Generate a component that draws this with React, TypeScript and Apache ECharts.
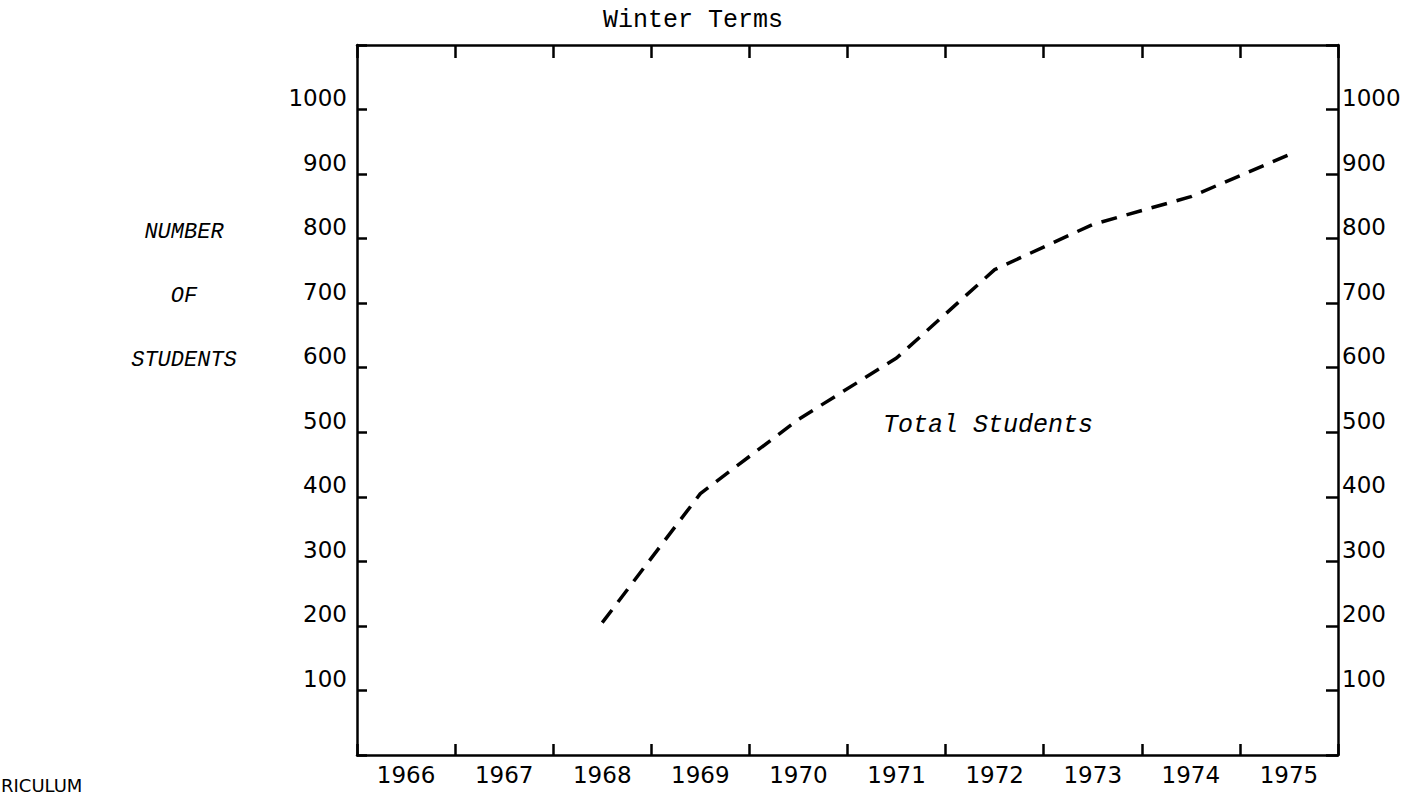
import React, { useEffect, useRef } from 'react';
import * as echarts from 'echarts';

const years = ['1966', '1967', '1968', '1969', '1970', '1971', '1972', '1973', '1974', '1975'];
const totalStudents = [null, null, 205, 405, 520, 615, 752, 822, 865, 930];
const yMin = 0;
const yMax = 1100;
const yStep = 100;
const titleText = 'Winter Terms';
const yNameLines = ['NUMBER', 'OF', 'STUDENTS'];
const seriesLabel = 'Total Students';
const footerText = 'RICULUM';

export default function App() {
  const ref = useRef<HTMLDivElement>(null);
  useEffect(() => {
    const chart = echarts.init(ref.current!, null, { renderer: 'svg' });
    const tickFont = { fontFamily: 'DejaVu Sans', fontSize: 23, color: '#000' };
    const lineStyle = { color: '#000', width: 2.5 };
    const yLabelFmt = (v: number) => (v <= yMin || v >= yMax ? '' : String(v));
    const yAxisBase = {
      type: 'value',
      min: yMin,
      max: yMax,
      interval: yStep,
      splitLine: { show: false },
      axisLine: { show: true, onZero: false, lineStyle },
    };
    const xAxisBase = {
      type: 'category',
      data: years,
      boundaryGap: true,
      splitLine: { show: false },
      axisLine: { show: true, onZero: false, lineStyle },
    };
    const mono = 'Liberation Mono';
    chart.setOption({
      animation: false,
      backgroundColor: '#fff',
      grid: { left: 357, right: 90, top: 45, bottom: 41 },
      xAxis: [
        {
          ...xAxisBase,
          position: 'bottom',
          axisTick: { show: true, inside: true, length: 11, lineStyle },
          axisLabel: { ...tickFont, margin: 8 },
        },
        {
          ...xAxisBase,
          position: 'top',
          axisTick: { show: true, inside: true, length: 13, lineStyle },
          axisLabel: { show: false },
        },
      ],
      yAxis: [
        {
          ...yAxisBase,
          position: 'left',
          axisTick: { show: true, inside: true, length: 10, lineStyle },
          axisLabel: { ...tickFont, margin: 10, verticalAlign: 'bottom', formatter: yLabelFmt },
        },
        {
          ...yAxisBase,
          position: 'right',
          axisTick: { show: true, inside: true, length: 12, lineStyle },
          axisLabel: { ...tickFont, margin: 4, verticalAlign: 'bottom', formatter: yLabelFmt },
        },
      ],
      series: [
        {
          type: 'line',
          name: seriesLabel,
          data: totalStudents,
          xAxisIndex: 0,
          yAxisIndex: 0,
          symbol: 'none',
          connectNulls: false,
          lineStyle: { color: '#000', width: 3.5, type: [16, 10] },
        },
      ],
      graphic: [
        {
          type: 'text',
          x: 693,
          y: 20,
          style: {
            text: titleText,
            font: `25px "${mono}"`,
            fill: '#000',
            textAlign: 'center',
            textVerticalAlign: 'middle',
          },
        },
        ...yNameLines.map((t, i) => ({
          type: 'text',
          x: 184,
          y: 232 + i * 64,
          style: {
            text: t,
            font: `italic 22px "${mono}"`,
            fill: '#000',
            textAlign: 'center',
            textVerticalAlign: 'middle',
          },
        })),
        {
          type: 'text',
          x: 988,
          y: 425,
          style: {
            text: seriesLabel,
            font: `italic 25px "${mono}"`,
            fill: '#000',
            textAlign: 'center',
            textVerticalAlign: 'middle',
          },
        },
        {
          type: 'text',
          x: 1,
          y: 776,
          style: {
            text: footerText,
            font: '18px "DejaVu Sans"',
            fill: '#000',
            textAlign: 'left',
            textVerticalAlign: 'top',
          },
        },
      ],
    });
    return () => chart.dispose();
  }, []);
  return <div ref={ref} style={{ position: 'fixed', left: 0, top: 0, width: 1428, height: 796 }} />;
}
